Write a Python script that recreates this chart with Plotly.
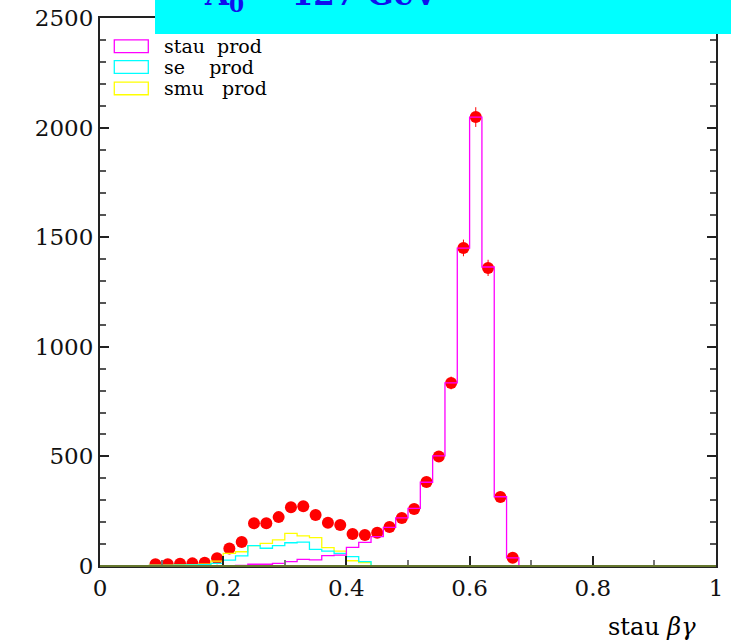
import plotly.graph_objects as go

# ---- data (bin width 0.02, bins from 0 to 1) ----
bin_edges = [round(0.02 * i, 2) for i in range(51)]

# total (data points), only non-empty bins
pt_x = [0.09, 0.11, 0.13, 0.15, 0.17, 0.19, 0.21, 0.23, 0.25, 0.27, 0.29, 0.31,
        0.33, 0.35, 0.37, 0.39, 0.41, 0.43, 0.45, 0.47, 0.49, 0.51, 0.53, 0.55,
        0.57, 0.59, 0.61, 0.63, 0.65, 0.67]
pt_y = [8, 8, 10, 12, 15, 35, 80, 110, 195, 195, 223, 268,
        273, 233, 197, 187, 146, 141, 152, 178, 219, 260, 383, 500,
        835, 1451, 2048, 1360, 315, 38]
pt_err = [3, 3, 3, 3, 4, 6, 9, 10, 14, 14, 15, 16,
          17, 15, 14, 14, 12, 12, 12, 13, 15, 16, 20, 22,
          29, 38, 45, 37, 18, 6]

stau = [0, 0, 0, 0, 1, 1, 1, 1, 1, 1, 2, 3, 8, 8, 12, 20, 30, 28, 47, 50,
        85, 108, 134, 176, 220, 263, 382, 502, 835, 1450, 2048, 1364, 316, 37,
        0, 0, 0, 0, 0, 0, 0, 0, 0, 0, 0, 0, 0, 0, 0, 0]
se = [0, 0, 0, 0, 3, 3, 4, 5, 6, 12, 27, 46, 93, 81, 93, 106, 109, 76, 68, 58,
      43, 20, 0, 0, 0, 0, 0, 0, 0, 0, 0, 0, 0, 0,
      0, 0, 0, 0, 0, 0, 0, 0, 0, 0, 0, 0, 0, 0, 0, 0]
smu = [0, 0, 0, 0, 4, 4, 5, 6, 8, 22, 58, 65, 93, 103, 119, 149, 137, 129, 84, 68,
       24, 15, 0, 0, 0, 0, 0, 0, 0, 0, 0, 0, 0, 0,
       0, 0, 0, 0, 0, 0, 0, 0, 0, 0, 0, 0, 0, 0, 0, 0]

legend_names = ["stau\u00a0\u00a0prod", "se\u00a0\u00a0\u00a0\u00a0prod", "smu\u00a0\u00a0\u00a0prod"]
colors = ["#ff00ff", "#00ffff", "#ffff00"]

fig = go.Figure()

fig.add_trace(go.Scatter(
    x=pt_x, y=pt_y, mode="markers",
    marker=dict(color="#ff0000", size=12, line=dict(width=0)),
    error_y=dict(type="data", array=pt_err, color="#ff0000", thickness=1, width=0),
    showlegend=False))

for vals, col in [(smu, colors[2]), (se, colors[1]), (stau, colors[0])]:
    fig.add_trace(go.Scatter(
        x=bin_edges, y=vals + [vals[-1]], mode="lines",
        line=dict(color=col, width=1.3, shape="hv"), showlegend=False))

serif = "DejaVu Serif"

fig.update_layout(
    width=731, height=642,
    margin=dict(l=100, r=15, t=18, b=76, autoexpand=False),
    paper_bgcolor="white", plot_bgcolor="white",
    showlegend=False,
    font=dict(family=serif, color="black"),
)

fig.update_xaxes(
    range=[0, 1], tick0=0,
    tickvals=[0, 0.2, 0.4, 0.6, 0.8, 1], ticktext=["0", "0.2", "0.4", "0.6", "0.8", "1"],
    ticks="inside", ticklen=10, tickwidth=1.5, tickcolor="#222",
    minor=dict(tickvals=[0.1, 0.3, 0.5, 0.7, 0.9], ticks="inside", ticklen=6,
               tickcolor="#777", tickwidth=1.5),
    showline=True, linecolor="#222", linewidth=2, mirror="ticks",
    showgrid=False, zeroline=False, automargin=False,
    tickfont=dict(family=serif, size=23, color="#111"),
)
fig.update_yaxes(
    range=[0, 2500], dtick=500, tick0=0,
    ticks="inside", ticklen=9, tickwidth=1.5, tickcolor="#222",
    minor=dict(dtick=100, ticks="inside", ticklen=6, tickcolor="#555", tickwidth=1.5),
    showline=True, linecolor="#222", linewidth=2, mirror="allticks",
    showgrid=False, zeroline=False, automargin=False,
    tickfont=dict(family=serif, size=23, color="#111"),
)

# olive bottom axis line
fig.add_shape(type="line", xref="paper", yref="paper", x0=0, x1=1, y0=0, y1=0,
              line=dict(color="#66772e", width=2), layer="above")

# cyan banner at top
fig.add_shape(type="rect", xref="paper", yref="paper",
              x0=0.0893, x1=1.03, y0=0.9708, y1=1.04,
              fillcolor="#00ffff", line=dict(width=0), layer="above")
fig.add_annotation(xref="paper", yref="paper", x=0.165, y=1.039,
                   xanchor="left", yanchor="middle", showarrow=False,
                   text="<b>A<sub>0</sub> = 127 GeV</b>",
                   font=dict(family=serif, size=31, color="#1010ee"))

# legend drawn as boxes + labels
leg_y = [0.9484, 0.9106, 0.8714]
for name, col, yy in zip(legend_names, colors, leg_y):
    fig.add_shape(type="rect", xref="paper", yref="paper",
                  x0=0.0232, x1=0.0784, y0=yy - 0.0115, y1=yy + 0.0115,
                  line=dict(color=col, width=1.3), fillcolor="rgba(0,0,0,0)")
    fig.add_annotation(xref="paper", yref="paper", x=0.100, y=yy,
                       xanchor="left", yanchor="middle", showarrow=False,
                       text=name, font=dict(family=serif, size=19, color="black"))

# x axis title
fig.add_annotation(xref="paper", yref="paper", x=0.97, y=-0.111,
                   xanchor="right", yanchor="middle", showarrow=False,
                   text="stau <i>βγ</i>",
                   font=dict(family=serif, size=24, color="black"))

fig.write_html("out.html")
